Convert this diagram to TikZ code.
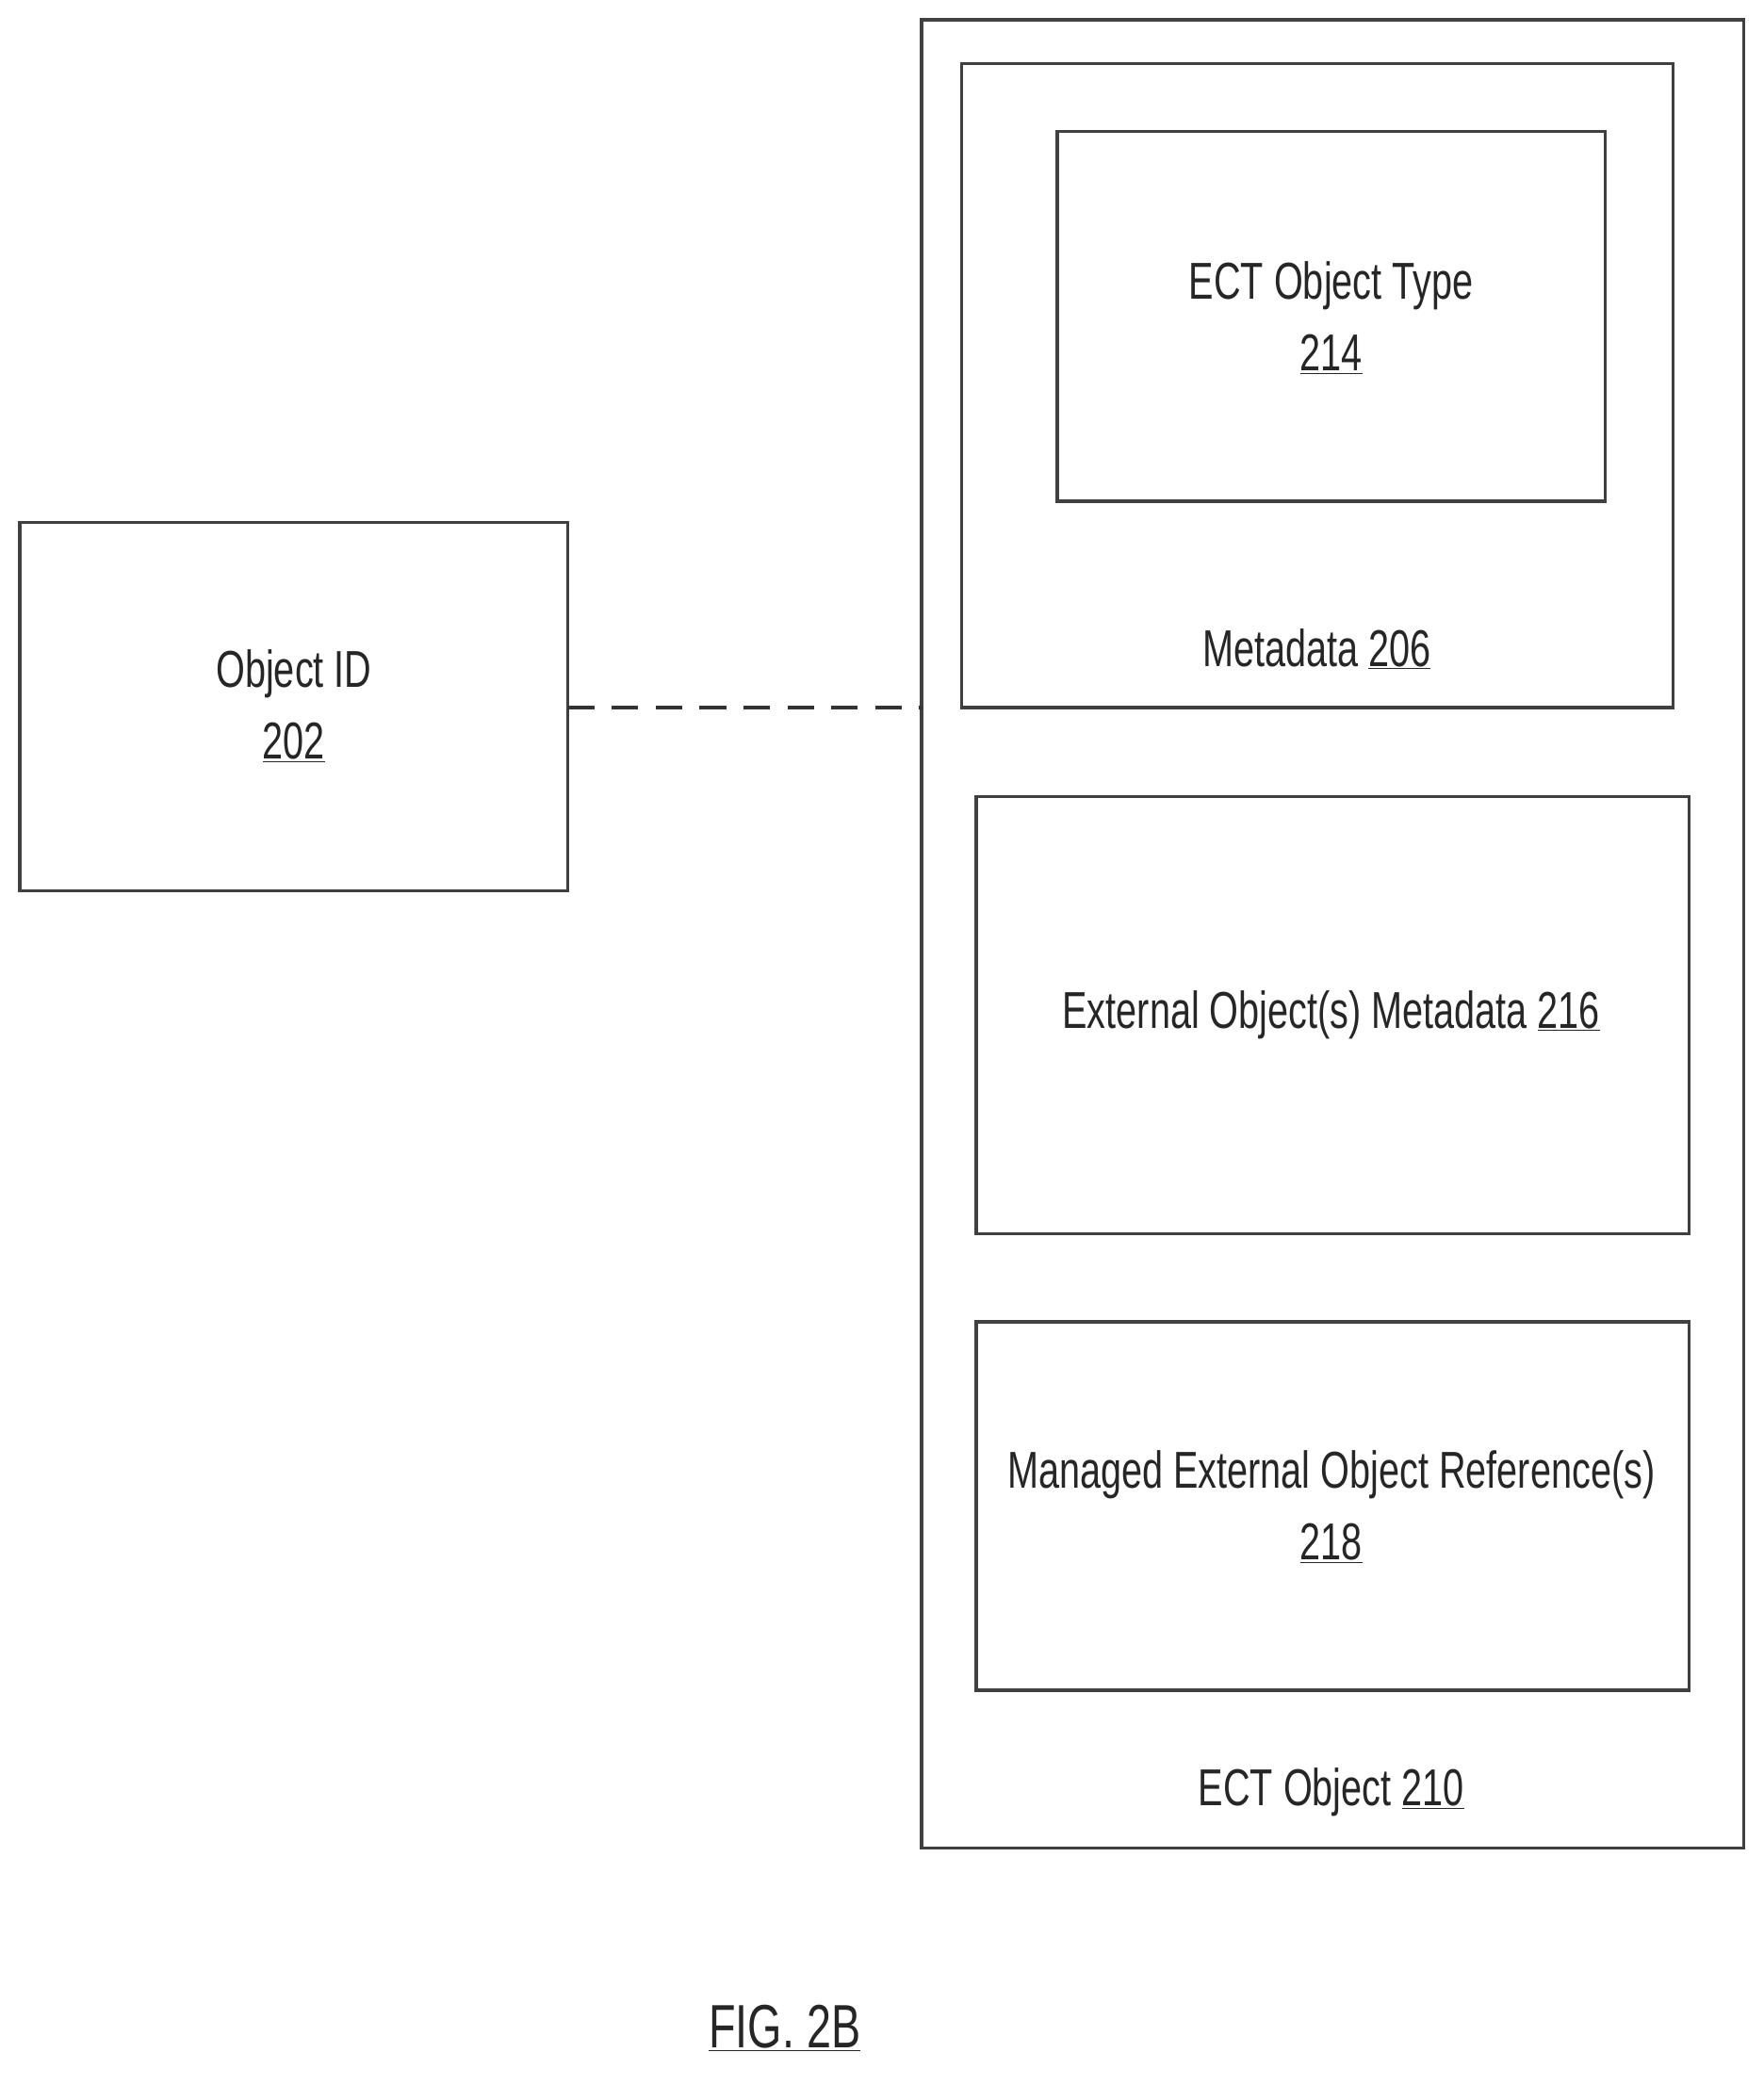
\documentclass[tikz,border=0pt]{standalone}
\usepackage{fontspec}
\setmainfont{Liberation Sans}[FakeStretch=0.72]
\begin{document}
\begin{tikzpicture}[x=1pt,y=-1pt,
  box/.style={draw=black!75,line width=2.4pt},
  lbl/.style={font=\fontsize{39}{54}\selectfont,text=black!85,align=center,inner sep=0pt}]
\useasboundingbox (0,0) rectangle (1326,1568);
\draw[box] (15,393) rectangle (427,670);
\node[lbl] (oid) at (221,531) {Object ID\\\underline{202}};
\draw[box] (693,15) rectangle (1311,1390);
\draw[box] (723,48) rectangle (1258,532);
\draw[box] (795,99) rectangle (1207,377);
\node[lbl] (type) at (1001,239) {ECT Object Type\\\underline{214}};
\node[lbl] (meta) at (990,488) {Metadata \underline{206}};
\draw[box] (734,599) rectangle (1270,928);
\node[lbl] (ext) at (1001,763) {External Object(s) Metadata \underline{216}};
\draw[box] (734,994) rectangle (1270,1271);
\node[lbl] (man) at (1001,1133) {Managed External Object Reference(s)\\\underline{218}};
\node[lbl] (ect) at (1001,1348) {ECT Object \underline{210}};
\coordinate (a) at (427,532);
\coordinate (b) at (693,532);
\draw[black!80,line width=3pt,dash pattern=on 20pt off 13pt] (a) -- (b);
\node[lbl,font=\fontsize{46}{50}\selectfont] (fig) at (590,1525) {\underline{FIG. 2B}};
\end{tikzpicture}
\end{document}
